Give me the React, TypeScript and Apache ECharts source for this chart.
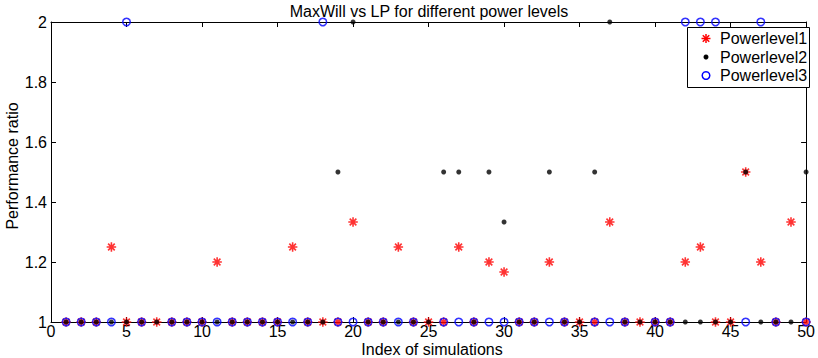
import React, { useEffect, useRef } from 'react';
import * as echarts from 'echarts';

const simulationIndex = [
  1, 2, 3, 4, 5, 6, 7, 8, 9, 10,
  11, 12, 13, 14, 15, 16, 17, 18, 19, 20,
  21, 22, 23, 24, 25, 26, 27, 28, 29, 30,
  31, 32, 33, 34, 35, 36, 37, 38, 39, 40,
  41, 42, 43, 44, 45, 46, 47, 48, 49, 50,
];

const powerlevel1: (number | null)[] = [
  1, 1, 1, 1.25, 1, 1, 1, 1, 1, 1,
  1.2, 1, 1, 1, 1, 1.25, 1, 1, 1, 1.3333,
  1, 1, 1.25, 1, 1, 1, 1.25, 1, 1.2, 1.1667,
  1, 1, 1.2, 1, 1, 1, 1.3333, 1, 1, 1,
  1, 1.2, 1.25, 1, 1, 1.5, 1.2, 1, 1.3333, 1,
];

const powerlevel2: (number | null)[] = [
  1, 1, 1, 1, 1, 1, 1, 1, 1, 1,
  1, 1, 1, 1, 1, 1, 1, 1, 1.5, 2,
  1, 1, 1, 1, 1, 1.5, 1.5, 1, 1.5, 1.3333,
  1, 1, 1.5, 1, 1, 1.5, 2, 1, 1, 1,
  1, 1, 1, 1, 1, 1.5, 1, 1, 1, 1.5,
];

const powerlevel3: (number | null)[] = [
  1, 1, 1, 1, 2, 1, null, 1, 1, 1,
  1, 1, 1, 1, 1, 1, 1, 2, 1, 1,
  1, 1, 1, 1, null, 1, 1, 1, 1, 1,
  1, 1, 1, 1, null, 1, 1, 1, null, 1,
  1, 2, 2, 2, null, 1, 2, 1, null, 1,
];

const seriesNames = ['Powerlevel1', 'Powerlevel2', 'Powerlevel3'];
const chartTitle = 'MaxWill vs LP for different power levels';
const xAxisTitle = 'Index of simulations';
const yAxisTitle = 'Performance ratio';

const FONT = '"Liberation Sans", Arial, Helvetica, sans-serif';
const ASTERISK = 'path://M10 0L10 20M0 10L20 10M3 3L17 17M3 17L17 3';

function toPoints(values: (number | null)[]) {
  return simulationIndex
    .map((x, i) => [x, values[i]])
    .filter((p) => p[1] !== null);
}

function asteriskLines(cx: number, cy: number, r: number) {
  const d = r * 0.72;
  const segs = [
    [cx, cy - r, cx, cy + r],
    [cx - r, cy, cx + r, cy],
    [cx - d, cy - d, cx + d, cy + d],
    [cx - d, cy + d, cx + d, cy - d],
  ];
  return segs.map((s) => ({
    type: 'line',
    z: 100,
    shape: { x1: s[0], y1: s[1], x2: s[2], y2: s[3] },
    style: { stroke: '#ff0000', lineWidth: 1.5 },
  }));
}

export default function App() {
  const ref = useRef<HTMLDivElement>(null);

  useEffect(() => {
    document.body.style.margin = '0';
    if (!ref.current) return;
    const chart = echarts.init(ref.current, null, { renderer: 'svg' });

    const axisLineStyle = { color: '#000', width: 1 };
    const tickStyle = { show: true, inside: true, length: 5, lineStyle: { color: '#000', width: 1 } };

    const xBase = {
      type: 'value',
      min: 0,
      max: 50,
      interval: 5,
      axisLine: { show: true, onZero: false, lineStyle: axisLineStyle },
      axisTick: tickStyle,
      splitLine: { show: false },
    };
    const yBase = {
      type: 'value',
      min: 1,
      max: 2,
      interval: 0.2,
      axisLine: { show: true, onZero: false, lineStyle: axisLineStyle },
      axisTick: tickStyle,
      splitLine: { show: false },
    };

    const legendX = 687;
    const legendY = 27;
    const rowYs = [38.5, 57, 75.5];
    const symX = 706;
    const textX = 720;

    const option: any = {
      animation: false,
      backgroundColor: '#fff',
      textStyle: { fontFamily: FONT },
      grid: { left: 51, top: 22, right: 5, bottom: 36, containLabel: false },
      xAxis: [
        {
          ...xBase,
          position: 'bottom',
          axisLabel: { show: true, color: '#000', fontSize: 16, lineHeight: 14, fontFamily: FONT, margin: 2 },
        },
        {
          ...xBase,
          position: 'top',
          axisLabel: { show: false },
        },
      ],
      yAxis: [
        {
          ...yBase,
          position: 'left',
          axisLabel: {
            show: true,
            color: '#000',
            fontSize: 16,
            fontFamily: FONT,
            margin: 4,
            formatter: (v: number) => String(+v.toFixed(1)),
          },
        },
        {
          ...yBase,
          position: 'right',
          axisLabel: { show: false },
        },
      ],
      series: [
        {
          name: seriesNames[0],
          type: 'scatter',
          clip: false,
          symbol: ASTERISK,
          symbolSize: 9.5,
          itemStyle: { color: 'rgba(0,0,0,0)', borderColor: '#ff0000', borderWidth: 1.6 },
          data: toPoints(powerlevel1),
        },
        {
          name: seriesNames[1],
          type: 'scatter',
          clip: false,
          symbol: 'circle',
          symbolSize: 5,
          itemStyle: { color: '#000000' },
          data: toPoints(powerlevel2),
        },
        {
          name: seriesNames[2],
          type: 'scatter',
          clip: false,
          symbol: 'circle',
          symbolSize: 7.5,
          itemStyle: { color: 'rgba(0,0,0,0)', borderColor: '#0000ff', borderWidth: 1.5 },
          data: toPoints(powerlevel3),
        },
      ],
      graphic: [
        {
          type: 'text',
          z: 100,
          x: 429,
          y: 11.5,
          style: {
            text: chartTitle,
            fill: '#000',
            font: `16px ${FONT}`,
            lineHeight: 13,
            align: 'center',
            verticalAlign: 'middle',
          },
        },
        {
          type: 'text',
          z: 100,
          x: 432,
          y: 349,
          style: {
            text: xAxisTitle,
            fill: '#000',
            font: `16px ${FONT}`,
            lineHeight: 12,
            align: 'center',
            verticalAlign: 'middle',
          },
        },
        {
          type: 'text',
          z: 100,
          x: 12.8,
          y: 166,
          rotation: Math.PI / 2,
          style: {
            text: yAxisTitle,
            fill: '#000',
            font: `16px ${FONT}`,
            lineHeight: 13,
            align: 'center',
            verticalAlign: 'middle',
          },
        },
        {
          type: 'rect',
          z: 99,
          shape: { x: legendX + 0.5, y: legendY + 0.5, width: 122, height: 60 },
          style: { fill: '#fff', stroke: '#000', lineWidth: 1 },
        },
        ...asteriskLines(symX, rowYs[0], 4.5),
        {
          type: 'circle',
          z: 100,
          shape: { cx: symX, cy: rowYs[1], r: 2.5 },
          style: { fill: '#000' },
        },
        {
          type: 'circle',
          z: 100,
          shape: { cx: symX, cy: rowYs[2], r: 3.8 },
          style: { fill: 'none', stroke: '#0000ff', lineWidth: 1.5 },
        },
        ...seriesNames.map((name, i) => ({
          type: 'text',
          z: 100,
          x: textX,
          y: rowYs[i],
          style: {
            text: name,
            fill: '#000',
            font: `16px ${FONT}`,
            lineHeight: 16,
            align: 'left',
            verticalAlign: 'middle',
          },
        })),
      ],
    };

    chart.setOption(option);
    return () => {
      chart.dispose();
    };
  }, []);

  return <div ref={ref} style={{ width: 818, height: 358 }} />;
}
